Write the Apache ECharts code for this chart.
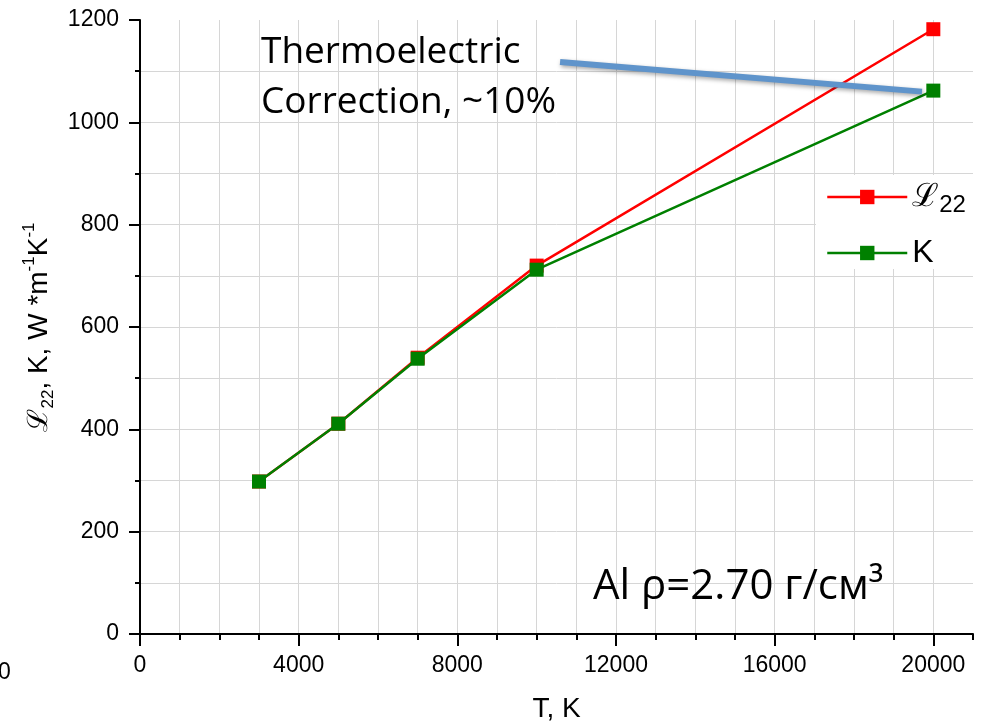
<!DOCTYPE html>
<html>
<head>
<meta charset="utf-8">
<script src="https://cdn.jsdelivr.net/npm/echarts@6/dist/echarts.min.js"></script>
<style>html,body{margin:0;padding:0;background:#fff}#c{width:981px;height:728px}</style>
</head>
<body>
<div id="c"></div>
<script>
// ---- data ----
const temperatures = [3000, 5000, 7000, 10000, 20000];
const l22Values = [298, 411, 540, 720, 1182];
const kValues = [298, 411, 538, 712, 1062];
const correctionLine = [[10590, 1118], [19714, 1060]];
const xMajorTicks = [0, 4000, 8000, 12000, 16000, 20000];
const yMajorTicks = [0, 200, 400, 600, 800, 1000, 1200];

const chart = echarts.init(document.getElementById('c'), null, { width: 981, height: 728 });
const tickFont = 'Liberation Sans, Arial, sans-serif';
const noteFont = 'Open Sans, Lato, sans-serif';
const gridCol = '#d6d6d6';

function splitColors(n) { const a = []; for (let i = 0; i < n; i++) a.push(gridCol); a.push('rgba(0,0,0,0)'); return a; }

const xMin = 0, xMax = 21000, yMin = 0, yMax = 1200;

chart.setOption({
  backgroundColor: '#fff',
  animation: false,
  grid: { left: 140, width: 833, top: 20, height: 620, containLabel: false },
  xAxis: [
    {
      type: 'value', min: xMin, max: xMax, interval: 4000, position: 'bottom',
      axisLine: { show: true, onZero: false, lineStyle: { color: '#000', width: 2 } },
      axisTick: { show: true, inside: false, length: 12, lineStyle: { color: '#000', width: 2 } },
      axisLabel: { show: true, margin: 20, fontSize: 23, color: '#000', fontFamily: tickFont, showMaxLabel: false,
        formatter: v => xMajorTicks.includes(v) ? String(v) : '' },
      splitLine: { show: false },
      name: 'T, K', nameLocation: 'middle', nameGap: 61,
      nameTextStyle: { fontSize: 28, color: '#000', fontFamily: tickFont }
    },
    {
      type: 'value', min: xMin, max: xMax, interval: 1000, position: 'bottom', offset: 0,
      axisLine: { show: false },
      axisTick: { show: true, inside: false, length: 6, lineStyle: { color: '#000', width: 2 } },
      axisLabel: { show: false },
      splitLine: { show: true, lineStyle: { color: splitColors(21), width: 1 } }
    }
  ],
  yAxis: [
    {
      type: 'value', min: yMin, max: yMax, interval: 200, position: 'left',
      axisLine: { show: true, onZero: false, lineStyle: { color: '#000', width: 2 } },
      axisTick: { show: true, inside: false, length: 11, lineStyle: { color: '#000', width: 2 } },
      axisLabel: { show: true, margin: 21, fontSize: 23, color: '#000', fontFamily: tickFont,
        formatter: v => yMajorTicks.includes(v) ? String(v) : '' },
      splitLine: { show: false },
      name: '{a|ℒ}{sub|22}{a|, K, W *m}{sup|-1}{a|K}{sup|-1}',
      nameLocation: 'middle', nameGap: 82, nameRotate: 90,
      nameTextStyle: {
        color: '#000', fontFamily: tickFont,
        rich: {
          a: { fontSize: 28, lineHeight: 36, fontFamily: tickFont, color: '#000' },
          sub: { fontSize: 17, lineHeight: 18, verticalAlign: 'bottom', fontFamily: tickFont, color: '#000' },
          sup: { fontSize: 17, lineHeight: 18, verticalAlign: 'top', fontFamily: tickFont, color: '#000' }
        }
      }
    },
    {
      type: 'value', min: yMin, max: yMax, interval: 100, position: 'left', offset: 0,
      axisLine: { show: false },
      axisTick: { show: true, inside: false, length: 5, lineStyle: { color: '#000', width: 2 } },
      axisLabel: { show: false },
      splitLine: { show: true, lineStyle: { color: splitColors(12), width: 1 } }
    }
  ],
  legend: {
    data: ['L22', 'K'],
    orient: 'vertical', left: 816, top: 175,
    backgroundColor: '#fff',
    padding: [6, 10, 0, 10],
    itemWidth: 80, itemHeight: 18, itemGap: 20, itemTextGap: 9,
    lineStyle: { width: 2.5 },
    formatter: name => name === 'L22' ? '{a|ℒ}{sub|22}' : '{a|K}',
    textStyle: {
      rich: {
        a: { fontSize: 32, lineHeight: 40, fontFamily: tickFont, color: '#000' },
        sub: { fontSize: 24, lineHeight: 20, verticalAlign: 'bottom', fontFamily: tickFont, color: '#000' }
      }
    }
  },
  series: [
    {
      name: 'L22', type: 'line', xAxisIndex: 0, yAxisIndex: 0,
      data: temperatures.map((t, i) => [t, l22Values[i]]),
      symbol: 'rect', symbolSize: 14, color: '#ff0000',
      lineStyle: { color: '#ff0000', width: 2.5 }, itemStyle: { color: '#ff0000' }, z: 3
    },
    {
      name: 'K', type: 'line', xAxisIndex: 0, yAxisIndex: 0,
      data: temperatures.map((t, i) => [t, kValues[i]]),
      symbol: 'rect', symbolSize: 14, color: '#008000',
      lineStyle: { color: '#008000', width: 2.5 }, itemStyle: { color: '#008000' }, z: 4
    },
    {
      name: 'correction', type: 'line', xAxisIndex: 0, yAxisIndex: 0,
      data: correctionLine, symbol: 'none', silent: true, z: 5,
      lineStyle: { color: '#5f94cb', width: 6, shadowColor: 'rgba(0,0,0,0.35)', shadowBlur: 4, shadowOffsetY: 2, shadowOffsetX: 1 }
    }
  ],
  graphic: [
    { type: 'text', left: 261, top: 34, z: 10, style: { text: 'Thermoelectric', fontSize: 37, fontFamily: noteFont, fill: '#000' } },
    { type: 'text', left: 261, top: 84, z: 10, style: { text: 'Correction, ~10%', fontSize: 37, fontFamily: noteFont, fill: '#000' } },
    { type: 'text', left: 593, top: 566, z: 10, style: { text: 'Al ρ=2.70 г/см³', fontSize: 42, fontFamily: noteFont, fill: '#000' } },
    { type: 'text', left: -2, top: 661, z: 10, style: { text: '0', fontSize: 23, fontFamily: tickFont, fill: '#000' } }
  ]
});
</script>
</body>
</html>
